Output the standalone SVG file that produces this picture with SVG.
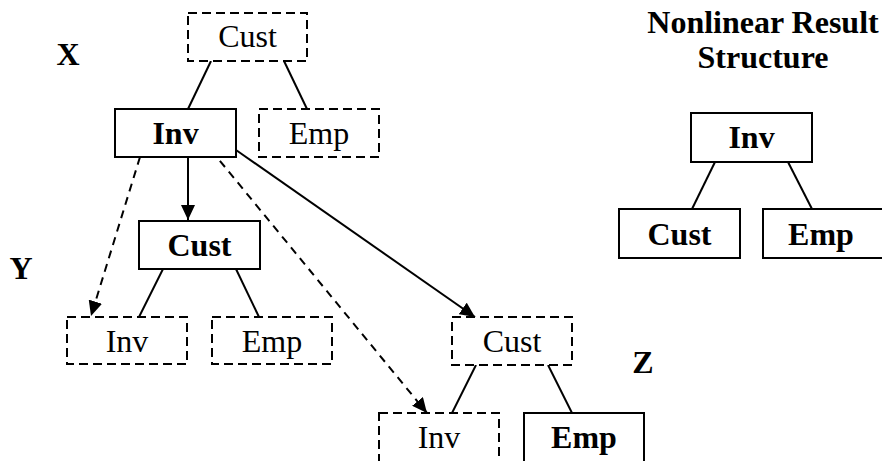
<svg xmlns="http://www.w3.org/2000/svg" width="882" height="461" viewBox="0 0 882 461">
<style>
  .box{fill:#fff;stroke:#000;stroke-width:2}
  .dbox{fill:#fff;stroke:#000;stroke-width:2;stroke-dasharray:9 5}
  .t{font-family:"Liberation Serif","Times New Roman",serif;font-size:32px;text-anchor:middle;fill:#000}
  .b{font-weight:bold}
  .e{stroke:#000;stroke-width:2;fill:none}
  .d{stroke-dasharray:8 6}
</style>
<defs>
  <marker id="ah" markerUnits="userSpaceOnUse" markerWidth="16" markerHeight="14" refX="15" refY="7" orient="auto">
    <path d="M0,0 L15,7 L0,14 z" fill="#000" stroke="none"/>
  </marker>
</defs>
<g id="connectors">
  <line class="e" x1="211" y1="61" x2="188" y2="109"/>
  <line class="e" x1="284" y1="61" x2="307" y2="109"/>
  <line class="e" x1="163" y1="269" x2="139" y2="317"/>
  <line class="e" x1="236" y1="269" x2="259" y2="317"/>
  <line class="e" x1="476" y1="365" x2="452" y2="413"/>
  <line class="e" x1="548" y1="365" x2="572" y2="413"/>
  <line class="e" x1="715" y1="162" x2="692" y2="209"/>
  <line class="e" x1="788" y1="162" x2="812" y2="209"/>
  <line class="e" x1="188" y1="157" x2="188" y2="220" marker-end="url(#ah)"/>
  <line class="e d" x1="140" y1="157" x2="91" y2="316" marker-end="url(#ah)"/>
  <line class="e d" x1="211" y1="150" x2="427" y2="413" marker-end="url(#ah)"/>
  <line class="e" x1="236" y1="150" x2="475" y2="317" marker-end="url(#ah)"/>
</g>
<g id="label-x"><text class="t b" x="68" y="65">X</text></g>
<g id="label-y"><text class="t b" x="21" y="279">Y</text></g>
<g id="label-z"><text class="t b" x="643" y="373">Z</text></g>
<g id="title"><text class="t b" x="763" y="33">Nonlinear Result</text><text class="t b" x="763" y="68">Structure</text></g>
<g id="x-cust"><rect class="dbox" x="188" y="13" width="119" height="48"/><text class="t" x="247.5" y="47">Cust</text></g>
<g id="x-inv"><rect class="box" x="115" y="109" width="121" height="48"/><text class="t b" x="175.5" y="144">Inv</text></g>
<g id="x-emp"><rect class="dbox" x="259" y="109" width="120" height="48"/><text class="t" x="319" y="144">Emp</text></g>
<g id="y-cust"><rect class="box" x="139" y="221" width="121" height="48"/><text class="t b" x="199.5" y="256">Cust</text></g>
<g id="y-inv"><rect class="dbox" x="67" y="317" width="120" height="47"/><text class="t" x="127" y="352">Inv</text></g>
<g id="y-emp"><rect class="dbox" x="212" y="317" width="120" height="47"/><text class="t" x="272" y="352">Emp</text></g>
<g id="z-cust"><rect class="dbox" x="452" y="317" width="120" height="48"/><text class="t" x="512" y="352">Cust</text></g>
<g id="z-inv"><rect class="dbox" x="379" y="413" width="120" height="52"/><text class="t" x="439" y="448">Inv</text></g>
<g id="z-emp"><rect class="box" x="524" y="413" width="120" height="52"/><text class="t b" x="584" y="448">Emp</text></g>
<g id="r-inv"><rect class="box" x="691" y="113" width="121" height="49"/><text class="t b" x="751.5" y="148">Inv</text></g>
<g id="r-cust"><rect class="box" x="619" y="209" width="121" height="49"/><text class="t b" x="679.5" y="245">Cust</text></g>
<g id="r-emp"><rect class="box" x="763" y="209" width="121" height="49"/><text class="t b" x="821" y="245">Emp</text></g>
</svg>
